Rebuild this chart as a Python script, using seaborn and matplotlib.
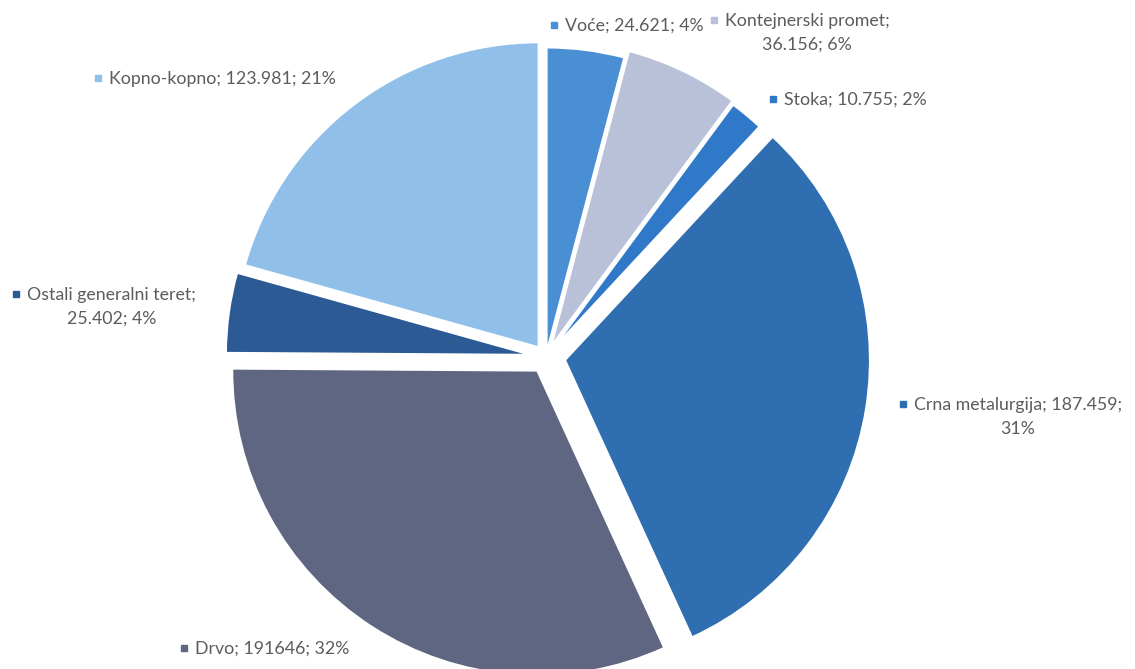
import matplotlib
matplotlib.use("Agg")
import matplotlib.pyplot as plt
import seaborn as sns

# podaci (redoslijed u smjeru kazaljke na satu, od vrha)
kategorije = ['Voće', 'Kontejnerski promet', 'Stoka', 'Crna metalurgija',
              'Drvo', 'Ostali generalni teret', 'Kopno-kopno']
vrijednosti = [24621, 36156, 10755, 187459, 191646, 25402, 123981]
oznake_vrijednosti = ['24.621', '36.156', '10.755', '187.459', '191646', '25.402', '123.981']
boje = ['#4a8fd4', '#b9c1d9', '#3078c8', '#2f6eb0', '#5e6681', '#2b5a94', '#90bfea']
izdvajanje = [0.015, 0.04, 0.03, 0.063, 0.053, 0.05, 0.04]

sns.set_theme(style="white")
plt.rcParams['font.family'] = ['Lato', 'DejaVu Sans']

W, H = 1135, 669
R = 305
fig = plt.figure(figsize=(W / 100, H / 100), dpi=100)
ax = fig.add_axes([0, 0, 1, 1])

paleta = sns.color_palette(boje)
ax.pie(vrijednosti, colors=paleta, startangle=90, counterclock=False,
       explode=[e * R for e in izdvajanje], radius=R, center=(546, H - 357),
       wedgeprops=dict(edgecolor='white', linewidth=1.5))
ax.set_xlim(0, W)
ax.set_ylim(0, H)
ax.set_aspect('equal')
ax.axis('off')

ukupno = sum(vrijednosti)
# polozaj oznaka (lijevi rub markera, vrh teksta) u pikselima slike
polozaji = [(551, 18), (711, 13), (770, 92), (900, 397), (181, 641), (13, 287), (95, 71)]
prijelom = [False, True, False, True, False, True, False]

for i, naziv in enumerate(kategorije):
    post = round(vrijednosti[i] / ukupno * 100)
    if prijelom[i]:
        if naziv == 'Crna metalurgija':
            tekst = f"{naziv}; {oznake_vrijednosti[i]};\n{post}%"
        else:
            tekst = f"{naziv};\n{oznake_vrijednosti[i]}; {post}%"
    else:
        tekst = f"{naziv}; {oznake_vrijednosti[i]}; {post}%"
    mx, ty = polozaji[i]
    ax.plot(mx + 3, H - ty - 7, marker='s', markersize=4.3, color=boje[i], linestyle='none')
    ax.text(mx + 14, H - ty, tekst, ha='left', va='top', multialignment='center',
            fontsize=12.8, color='#5c5c5c', linespacing=1.6)

plt.savefig("out.png", dpi=100)
